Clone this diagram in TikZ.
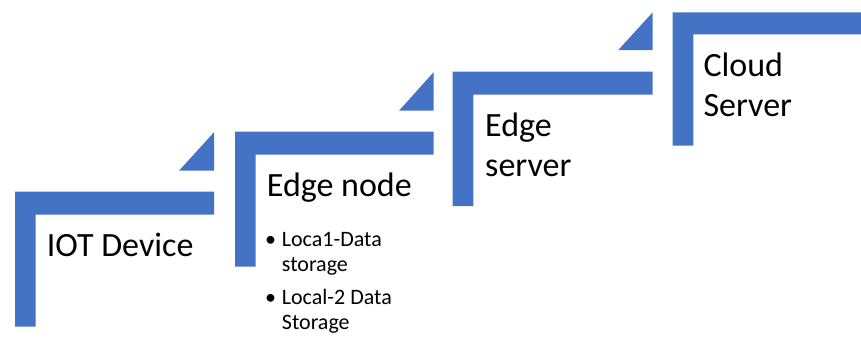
\documentclass[tikz,border=0pt]{standalone}
\usepackage{fontspec}
\setmainfont{Carlito}
\definecolor{stepblue}{HTML}{4472C4}
\begin{document}
\begin{tikzpicture}[x=1pt,y=-1pt,
  stepshape/.style={fill=stepblue,draw=none},
  bigtext/.style={anchor=base west,inner sep=0pt,align=left,font=\fontsize{34}{40}\selectfont},
  smalltext/.style={anchor=base west,inner sep=0pt,align=left,font=\fontsize{22}{25}\selectfont}]
\useasboundingbox (0,0) rectangle (861,341);
% step 1
\fill[stepshape] (15,191.7) -- (214,191.7) -- (214,214.7) -- (35.7,214.7) -- (35.7,326.7) -- (15,326.7) -- cycle;
\fill[stepshape] (179,170.7) -- (214,132.3) -- (214,170.7) -- cycle;
% step 2
\fill[stepshape] (235,131.7) -- (433.5,131.7) -- (433.5,154.7) -- (255.7,154.7) -- (255.7,266.7) -- (235,266.7) -- cycle;
\fill[stepshape] (399,110.7) -- (433.5,72.3) -- (433.5,110.7) -- cycle;
% step 3
\fill[stepshape] (452.7,71.7) -- (652.7,71.7) -- (652.7,94.7) -- (473.3,94.7) -- (473.3,206.2) -- (452.7,206.2) -- cycle;
\fill[stepshape] (618.3,50) -- (652.7,12.3) -- (652.7,50) -- cycle;
% step 4
\fill[stepshape] (672.7,12.3) -- (861,12.3) -- (861,34.3) -- (693.3,34.3) -- (693.3,145.7) -- (672.7,145.7) -- cycle;
% texts (multi-line nodes are anchored at the baseline of their last line)
\node[bigtext] (iot) at (46.7,256.7) {IOT Device};
\node[bigtext] (enode) at (266.7,196.7) {Edge node};
\node[smalltext] (b1) at (265,246) {\textbullet};
\node[smalltext] (l1) at (281.7,271) {Loca1-Data\\storage};
\node[smalltext] (b2) at (265,304) {\textbullet};
\node[smalltext] (l2) at (281.7,329) {Local-2 Data\\Storage};
\node[bigtext] (eserver) at (485,176.7) {Edge\\server};
\node[bigtext] (cloud) at (703.3,116.7) {Cloud\\Server};
\end{tikzpicture}
\end{document}
